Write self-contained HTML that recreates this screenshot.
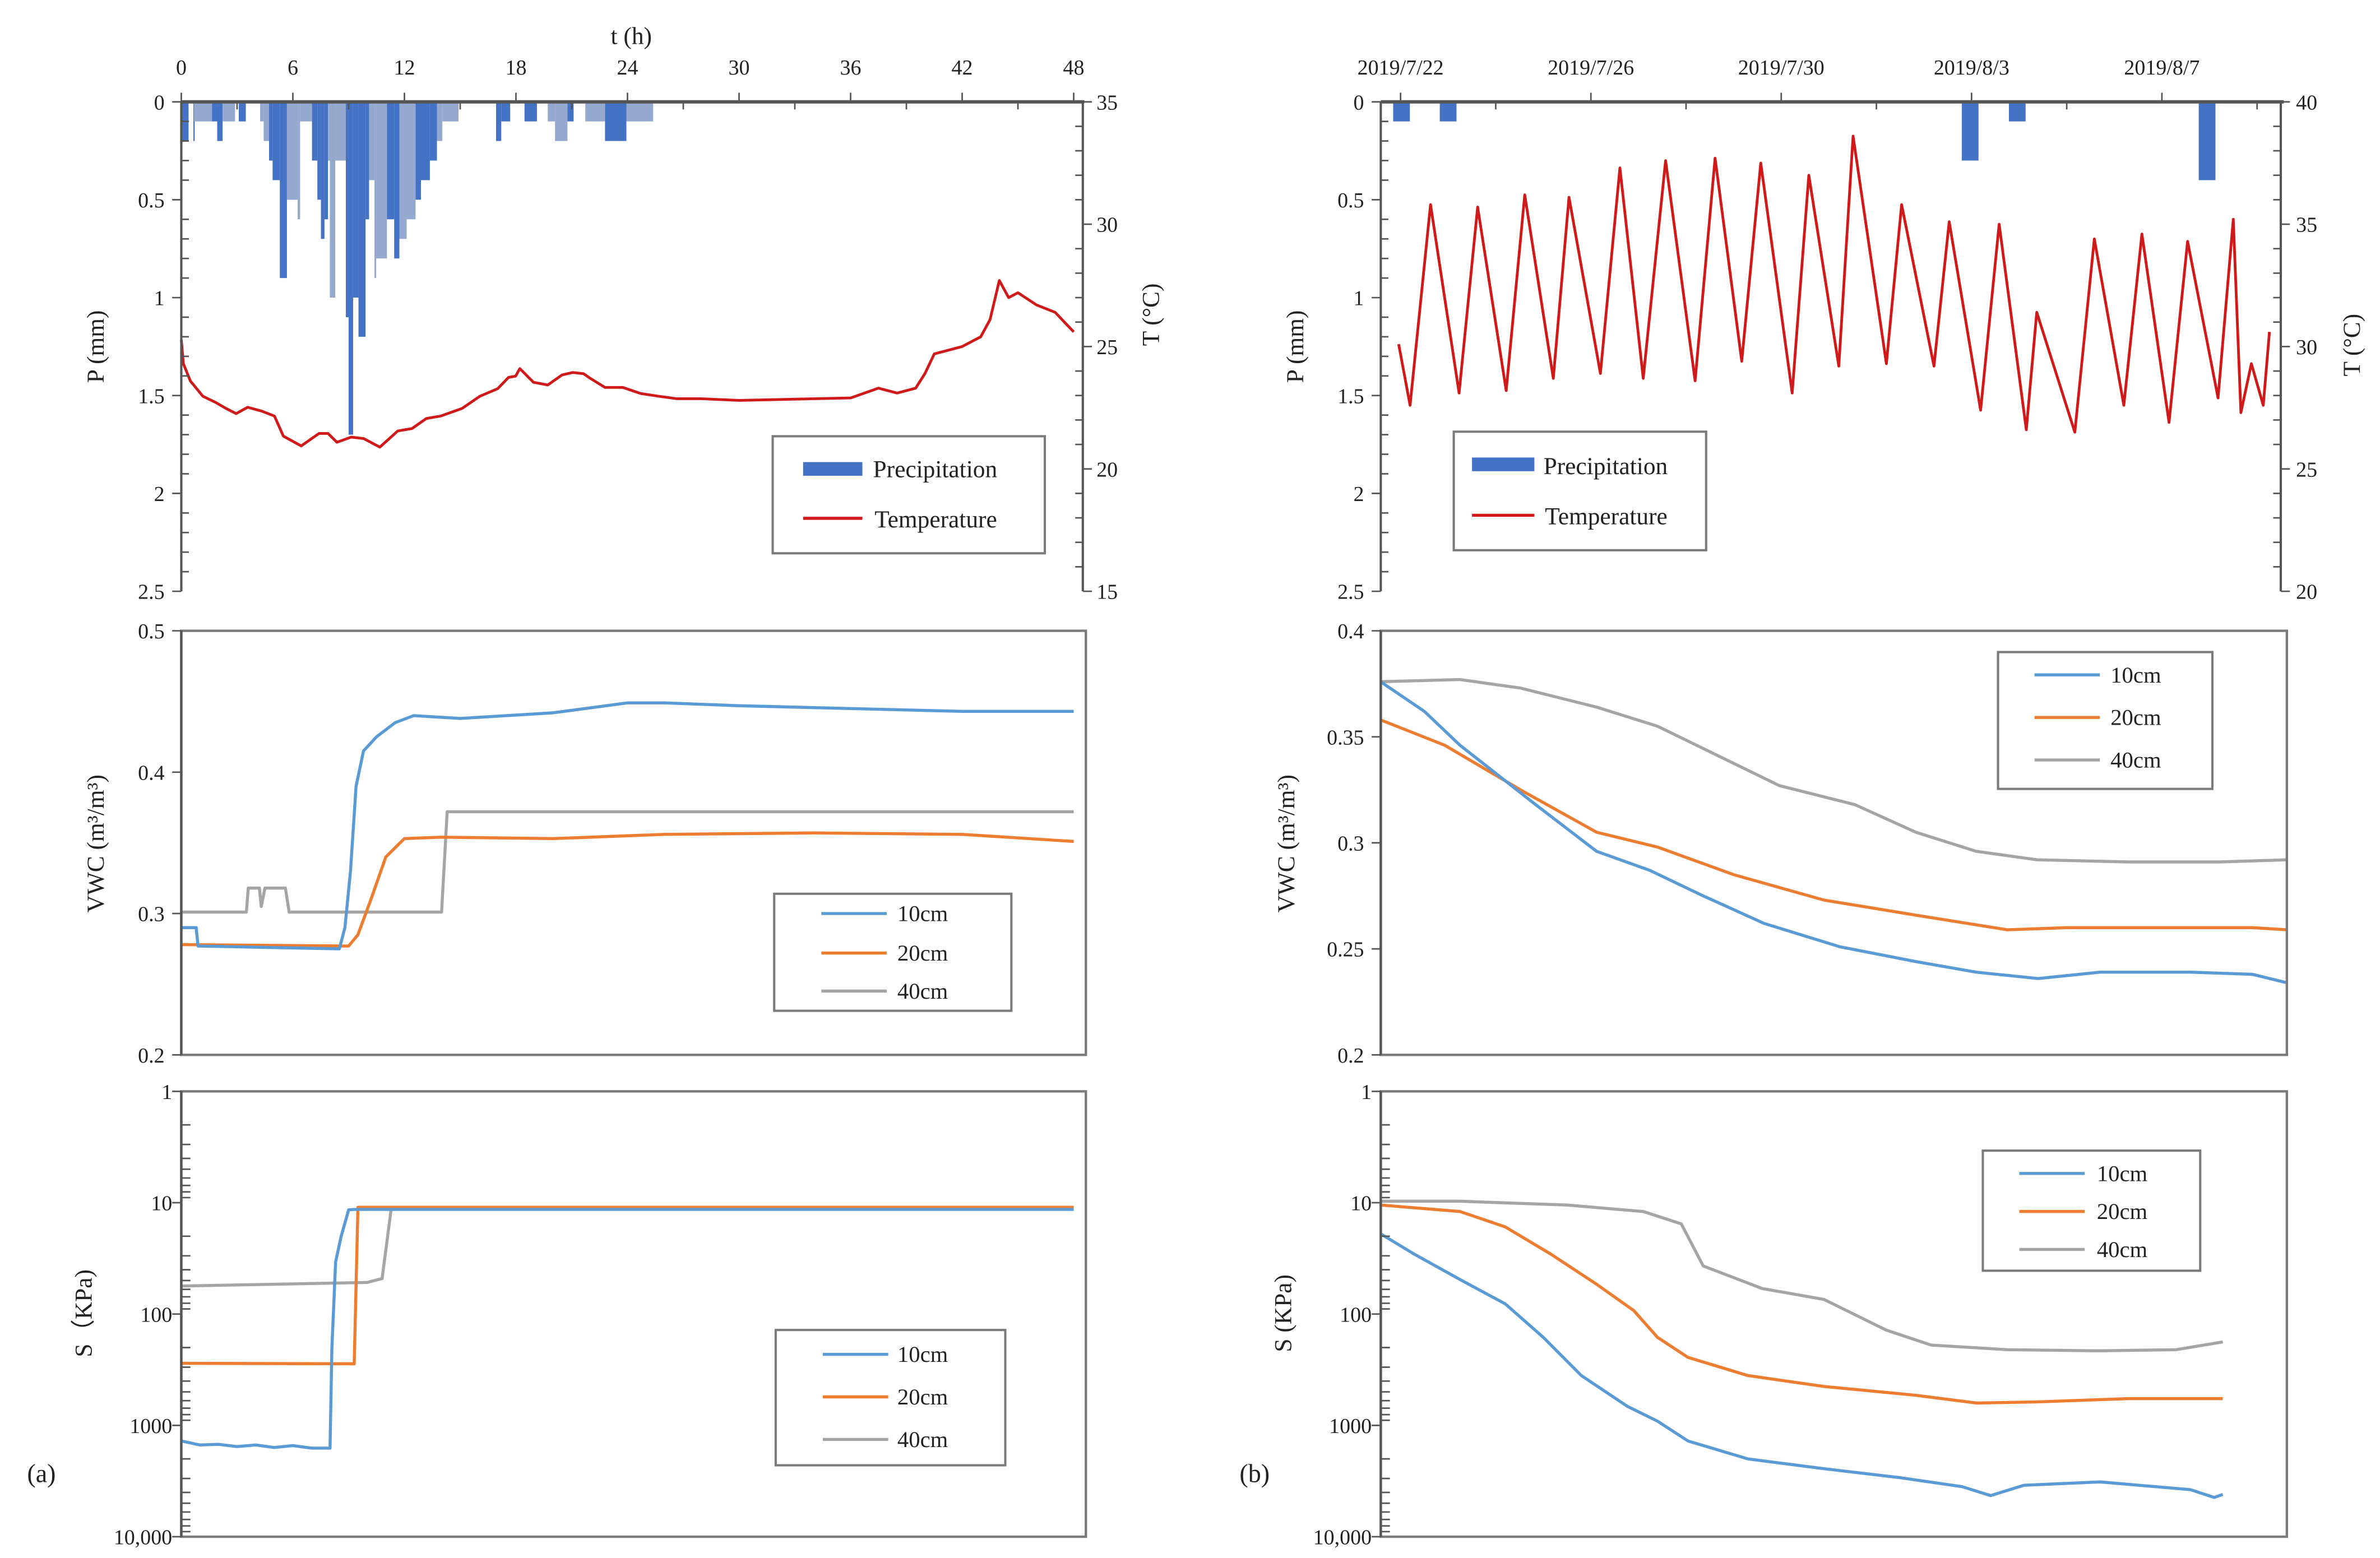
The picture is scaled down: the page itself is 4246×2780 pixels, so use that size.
<!DOCTYPE html>
<html><head><meta charset="utf-8"><style>
html,body{margin:0;padding:0;background:#fff}
svg{display:block}
text{font-family:"Liberation Serif",serif;fill:#222}
</style></head><body>
<svg id="fig" xmlns="http://www.w3.org/2000/svg" width="4246" height="2780" viewBox="0 0 1565 1025">
<rect x="0" y="0" width="1565" height="1025" fill="#fff"/>
</svg>
<script>
// ---------- DATA ----------
// Left (a): precipitation segments (hours)
const pStart=[0,0.65,0.68,1.65,1.93,2.22,3.09,4.24,4.43,4.72,4.91,5.30,5.68,6.26,6.39,7.03,7.32,7.51,7.70,7.89,7.99,8.28,8.85,9.00,9.24,9.53,9.91,10.10,10.39,10.48,11.06,11.45,11.73,12.12,12.60,12.89,13.37,13.75,14.04,16.93,17.21,18.46,19.71,20.10,20.77,21.73,22.79,23.94];
const pEnd=  [0.39,0.72,1.65,1.93,2.22,2.89,3.47,4.43,4.72,4.91,5.30,5.68,6.26,6.39,7.03,7.32,7.51,7.70,7.89,7.99,8.28,8.85,9.00,9.24,9.53,9.91,10.10,10.39,10.48,11.06,11.45,11.73,12.12,12.60,12.89,13.37,13.75,14.04,14.91,17.21,17.69,19.13,20.10,20.77,21.10,22.79,23.94,25.38];
const pVal=  [0.2,0.2,0.1,0.1,0.2,0.1,0.1,0.1,0.2,0.3,0.4,0.9,0.5,0.6,0.1,0.3,0.5,0.7,0.6,0.3,1.0,0.3,1.1,1.7,1.0,1.2,0.6,0.4,0.9,0.8,0.6,0.8,0.7,0.6,0.5,0.4,0.3,0.2,0.1,0.2,0.1,0.1,0.1,0.2,0.1,0.1,0.2,0.1];
const pLight=[0,0,1,0,0,1,0,1,1,0,0,0,1,1,1,0,0,0,0,1,1,1,0,0,0,0,0,1,1,1,0,0,1,1,0,0,0,1,1,0,0,0,1,1,0,1,0,1];
// Left temperature
const tT=[0,0.11,0.49,1.16,1.84,2.41,2.95,3.57,4.33,5.01,5.49,6.45,7.41,7.89,8.37,9.14,9.81,10.68,11.64,12.41,13.18,13.95,15.10,16.06,17.02,17.6,17.98,18.21,18.94,19.71,20.48,21.06,21.64,22.02,22.79,23.75,24.71,25.67,26.63,27.94,30,36,37.5,38.5,39.5,40,40.5,42,43,43.5,44,44.5,45,46,47,48];
const tVal=[25.27,24.30,23.59,22.97,22.72,22.47,22.26,22.52,22.36,22.16,21.34,20.94,21.45,21.45,21.09,21.30,21.24,20.89,21.55,21.65,22.06,22.16,22.47,22.97,23.28,23.74,23.79,24.10,23.54,23.43,23.84,23.94,23.89,23.69,23.33,23.33,23.08,22.97,22.87,22.87,22.8,22.9,23.3,23.1,23.3,23.9,24.7,25.0,25.4,26.1,27.7,27.0,27.2,26.7,26.4,25.6];
// Left VWC
const aV10t=[0,0.8,0.9,8.5,8.8,9.1,9.4,9.8,10.5,11.5,12.5,15,20,24,26,30,36,42,48];
const aV10=[0.29,0.29,0.277,0.275,0.29,0.33,0.39,0.415,0.425,0.435,0.44,0.438,0.442,0.449,0.449,0.447,0.445,0.443,0.443];
const aV20t=[0,9,9.5,10.2,11,12,14,20,26,34,42,48];
const aV20=[0.278,0.277,0.285,0.31,0.34,0.353,0.354,0.353,0.356,0.357,0.356,0.351];
const aV40t=[0,3.5,3.6,4.2,4.3,4.5,5.6,5.8,14,14.3,48];
const aV40=[0.301,0.301,0.318,0.318,0.305,0.318,0.318,0.301,0.301,0.372,0.372];
// Left suction (kPa)
const aS10t=[0,1,2,3,4,5,6,7,8,8.1,8.3,8.6,9,9.3,48];
const aS10=[1380,1500,1480,1550,1500,1580,1520,1600,1600,200,34,20,11.6,11.5,11.5];
const aS20t=[0,9.3,9.5,48];
const aS20=[277,280,11,11];
const aS40t=[0,5,10,10.8,11.3,48];
const aS40=[56,54,52,48,11,11];
// Right (b): days since 2019/7/22
const dateLabels=["2019/7/22","2019/7/26","2019/7/30","2019/8/3","2019/8/7"];
const bPday=[0.02,1.0,11.97,12.96,16.95];
const bPval=[0.1,0.1,0.3,0.1,0.4];
const bTd=[-0.04,0.20,0.63,1.23,1.62,2.22,2.61,3.21,3.54,4.20,4.61,5.10,5.57,6.19,6.61,7.17,7.57,8.23,8.58,9.21,9.51,10.21,10.53,11.21,11.53,12.19,12.58,13.15,13.37,14.17,14.58,15.20,15.58,16.15,16.54,17.18,17.50,17.66,17.88,18.13,18.26];
const bT=[30.1,27.6,35.8,28.1,35.7,28.2,36.2,28.7,36.1,28.9,37.3,28.7,37.6,28.6,37.7,29.4,37.5,28.1,37.0,29.2,38.6,29.3,35.8,29.2,35.1,27.4,35.0,26.6,31.4,26.5,34.4,27.6,34.6,26.9,34.3,27.9,35.2,27.3,29.3,27.6,30.6];
const bV10d=[-0.42,0.5,1.25,2.84,4.12,5.24,6.36,7.64,9.23,10.83,12.1,13.4,14.7,16.6,17.9,18.63];
const bV10=[0.376,0.362,0.346,0.318,0.296,0.287,0.275,0.262,0.251,0.244,0.239,0.236,0.239,0.239,0.238,0.234];
const bV20d=[-0.42,0.93,2.52,4.12,5.4,7.0,8.9,10.8,12.75,14.0,15.9,17.9,18.63];
const bV20=[0.358,0.346,0.325,0.305,0.298,0.285,0.273,0.266,0.259,0.260,0.260,0.260,0.259];
const bV40d=[-0.42,1.25,2.52,4.12,5.4,6.68,7.96,9.55,10.83,12.1,13.38,15.3,17.2,18.63];
const bV40=[0.376,0.377,0.373,0.364,0.355,0.341,0.327,0.318,0.305,0.296,0.292,0.291,0.291,0.292];
const bS10d=[-0.42,0.29,1.25,2.2,3.0,3.8,4.76,5.4,6.04,7.3,8.9,10.5,11.8,12.4,13.1,14.7,16.6,17.1,17.28];
const bS10=[19,29,49,81,162,357,672,917,1380,2000,2450,2950,3550,4270,3450,3220,3780,4440,4170];
const bS20d=[-0.42,1.25,2.2,3.16,4.12,4.9,5.4,6.04,7.3,8.9,10.83,12.1,13.38,15.3,17.28];
const bS20=[10.5,12,16.5,29,54,93,162,245,357,447,537,630,615,575,575];
const bS40d=[-0.42,1.25,3.5,5.1,5.9,6.36,7.6,8.9,10.2,11.15,12.75,14.67,16.3,17.28];
const bS40=[9.7,9.7,10.5,12,15.5,37,59,74,139,190,209,214,209,178];

// ---------- SCALES ----------
const tx=t=>119+t*587/48;
const pyL=p=>67+p*322/2.5;
const TyL=T=>67+(35-T)*322/20;
const dx=d=>921+d*31.3;
const TyR=T=>67+(40-T)*322/20;
const vyL=v=>415+(0.5-v)*930;
const vyR=v=>415+(0.4-v)*1395;
const sy=s=>718+73.25*Math.log10(s);

const svg=document.getElementById('fig');
const NS="http://www.w3.org/2000/svg";
function mk(tag,attrs,parent){const e=document.createElementNS(NS,tag);for(const k in attrs)e.setAttribute(k,attrs[k]);(parent||svg).appendChild(e);return e;}
function txt(x,y,s,size,anchor,parent,rot){const e=mk('text',{x:x,y:y,'font-size':size,'text-anchor':anchor||'middle'},parent);if(rot)e.setAttribute('transform','rotate('+rot+' '+x+' '+y+')');e.textContent=s;return e;}
function pathFrom(xs,ys,fx,fy){let d='';for(let i=0;i<xs.length;i++)d+=(i?'L':'M')+fx(xs[i]).toFixed(2)+','+fy(ys[i]).toFixed(2);return d;}
const C10="#5B9BD5",C20="#ED7D31",C40="#A5A5A5",CT="#D01A1A",CP="#4472C4",CPL="#95A8CE",AX="#7b7b7b";

// ===== Panel a-top =====
const gA1=mk('g',{});


for(let i=0;i<pStart.length;i++){
  const r=mk('rect',{x:tx(pStart[i]),y:67,width:Math.max(0.8,tx(pEnd[i])-tx(pStart[i])),height:pyL(pVal[i])-67,fill:pLight[i]?CPL:CP},gA1);
  
  
}
const tl=mk('path',{d:pathFrom(tT,tVal,tx,TyL),fill:'none',stroke:CT,'stroke-width':1.8,'stroke-linejoin':'round'},gA1);


mk('line',{x1:119,y1:67,x2:713,y2:67,stroke:'#555','stroke-width':2.2},gA1);
mk('line',{x1:119,y1:67,x2:119,y2:389,stroke:'#555','stroke-width':1.5},gA1);
mk('line',{x1:712,y1:67,x2:712,y2:389,stroke:'#555','stroke-width':1.5},gA1);
for(let t=0;t<=48;t+=3){const maj=t%6===0;mk('line',{x1:tx(t),y1:maj?61:67,x2:tx(t),y2:maj?67:72,stroke:'#555','stroke-width':1},gA1);if(maj)txt(tx(t),49,String(t),14,'middle',gA1);}
txt(415,29,'t (h)',16,'middle',gA1);
for(let p=0;p<=25;p++){const v=p/10,y=pyL(v),maj=p%5===0;mk('line',{x1:maj?113:119,y1:y,x2:maj?119:124,y2:y,stroke:'#555','stroke-width':1},gA1);if(maj)txt(108,y+5,['0','0.5','1','1.5','2','2.5'][p/5],14,'end',gA1);}
for(let T=15;T<=35;T++){const y=TyL(T),maj=T%5===0;mk('line',{x1:maj?712:707,y1:y,x2:maj?718:712,y2:y,stroke:'#555','stroke-width':1},gA1);if(maj)txt(721,y+5,String(T),14,'start',gA1);}
txt(68,228,'P (mm)',16,'middle',gA1,-90);
txt(762,207,'T (°C)',16,'middle',gA1,-90);
const lgA1=mk('g',{},gA1);


mk('rect',{x:508,y:287,width:179,height:77,fill:'#fff',stroke:AX,'stroke-width':1.5},lgA1);
mk('rect',{x:528,y:304,width:39,height:9,fill:CP},lgA1);
txt(574,314,'Precipitation',16,'start',lgA1);
mk('line',{x1:528,y1:341,x2:567,y2:341,stroke:CT,'stroke-width':2},lgA1);
txt(575,347,'Temperature',16,'start',lgA1);

// generic framed panel
function frame(g,x1,y1,x2,y2){mk('rect',{x:x1,y:y1,width:x2-x1,height:y2-y1,fill:'none',stroke:AX,'stroke-width':1.6},g);mk('line',{x1:x1,y1:y1,x2:x1,y2:y2,stroke:'#555','stroke-width':1.6},g);}
function legend3(g,x,y,w,h,ys,lx1,lx2,tx0,name){
  const lg=mk('g',{},g);
  
  
  mk('rect',{x:x,y:y,width:w,height:h,fill:'#fff',stroke:AX,'stroke-width':1.5},lg);
  const cols=[C10,C20,C40],labs=['10cm','20cm','40cm'];
  for(let i=0;i<3;i++){mk('line',{x1:lx1,y1:ys[i],x2:lx2,y2:ys[i],stroke:cols[i],'stroke-width':2},lg);txt(tx0,ys[i]+5,labs[i],15,'start',lg);}
}
function series(g,xs,ys,fx,fy,col,name){const p=mk('path',{d:pathFrom(xs,ys,fx,fy),fill:'none',stroke:col,'stroke-width':2,'stroke-linejoin':'round'},g);}
function logAxis(g,x){
  const labs=['1','10','100','1000','10,000'];
  for(let e=0;e<4;e++){for(let m=1;m<10;m++){const y=sy(Math.pow(10,e)*m);mk('line',{x1:x,y1:y,x2:x+(m===1?0:6),y2:y,stroke:'#555','stroke-width':1},g);}}
  for(let e=0;e<=4;e++){const y=sy(Math.pow(10,e));mk('line',{x1:x-6,y1:y,x2:x,y2:y,stroke:'#555','stroke-width':1},g);txt(x-6,y+5,labs[e],14,'end',g);}
}

// ===== Panel a-mid =====
const gA2=mk('g',{});


series(gA2,aV40t,aV40,tx,vyL,C40,'vwc-a-40cm');
series(gA2,aV20t,aV20,tx,vyL,C20,'vwc-a-20cm');
series(gA2,aV10t,aV10,tx,vyL,C10,'vwc-a-10cm');
frame(gA2,119,415,714,694);
[0.5,0.4,0.3,0.2].forEach((v,i)=>{const y=vyL(v);mk('line',{x1:113,y1:y,x2:119,y2:y,stroke:'#555','stroke-width':1},gA2);txt(108,y+5,['0.5','0.4','0.3','0.2'][i],14,'end',gA2);});
txt(68,555,'VWC (m³/m³)',16,'middle',gA2,-90);
legend3(gA2,509,588,156,77,[601,627,652],540,583,590,'legend-a-vwc');

// ===== Panel a-bottom =====
const gA3=mk('g',{});


series(gA3,aS40t,aS40,tx,sy,C40,'suction-a-40cm');
series(gA3,aS20t,aS20,tx,sy,C20,'suction-a-20cm');
series(gA3,aS10t,aS10,tx,sy,C10,'suction-a-10cm');
frame(gA3,119,718,714,1011);
logAxis(gA3,119);
txt(60,864,'S（KPa)',16,'middle',gA3,-90);
legend3(gA3,510,875,151,89,[891,919,947],541,584,590,'legend-a-suction');
txt(27,975,'(a)',17,'middle',svg);

// ===== Panel b-top =====
const gB1=mk('g',{});


for(let i=0;i<bPday.length;i++){
  const r=mk('rect',{x:dx(bPday[i])-5.5,y:67,width:11,height:pyL(bPval[i])-67,fill:CP},gB1);
  
  
}
const tl2=mk('path',{d:pathFrom(bTd,bT,dx,TyR),fill:'none',stroke:CT,'stroke-width':1.8,'stroke-linejoin':'round'},gB1);


mk('line',{x1:908,y1:67,x2:1502,y2:67,stroke:'#555','stroke-width':2.2},gB1);
mk('line',{x1:908,y1:67,x2:908,y2:389,stroke:'#555','stroke-width':1.5},gB1);
mk('line',{x1:1500,y1:67,x2:1500,y2:389,stroke:'#555','stroke-width':1.5},gB1);
for(let d=0;d<=18;d+=2){const maj=d%4===0;mk('line',{x1:dx(d),y1:maj?61:67,x2:dx(d),y2:maj?67:72,stroke:'#555','stroke-width':1},gB1);if(maj)txt(dx(d),49,dateLabels[d/4],14,'middle',gB1);}
for(let p=0;p<=25;p++){const v=p/10,y=pyL(v),maj=p%5===0;mk('line',{x1:maj?902:908,y1:y,x2:maj?908:913,y2:y,stroke:'#555','stroke-width':1},gB1);if(maj)txt(897,y+5,['0','0.5','1','1.5','2','2.5'][p/5],14,'end',gB1);}
for(let T=20;T<=40;T++){const y=TyR(T),maj=T%5===0;mk('line',{x1:maj?1500:1495,y1:y,x2:maj?1506:1500,y2:y,stroke:'#555','stroke-width':1},gB1);if(maj)txt(1510,y+5,String(T),14,'start',gB1);}
txt(857,228,'P (mm)',16,'middle',gB1,-90);
txt(1552,227,'T (°C)',16,'middle',gB1,-90);
const lgB1=mk('g',{},gB1);


mk('rect',{x:956,y:284,width:166,height:78,fill:'#fff',stroke:AX,'stroke-width':1.5},lgB1);
mk('rect',{x:968,y:301,width:41,height:9,fill:CP},lgB1);
txt(1015,312,'Precipitation',16,'start',lgB1);
mk('line',{x1:968,y1:339,x2:1009,y2:339,stroke:CT,'stroke-width':2},lgB1);
txt(1016,345,'Temperature',16,'start',lgB1);

// ===== Panel b-mid =====
const gB2=mk('g',{});


series(gB2,bV40d,bV40,dx,vyR,C40,'vwc-b-40cm');
series(gB2,bV20d,bV20,dx,vyR,C20,'vwc-b-20cm');
series(gB2,bV10d,bV10,dx,vyR,C10,'vwc-b-10cm');
frame(gB2,908,415,1504,694);
[0.4,0.35,0.3,0.25,0.2].forEach((v,i)=>{const y=vyR(v);mk('line',{x1:902,y1:y,x2:908,y2:y,stroke:'#555','stroke-width':1},gB2);txt(897,y+5,['0.4','0.35','0.3','0.25','0.2'][i],14,'end',gB2);});
txt(851,555,'VWC (m³/m³)',16,'middle',gB2,-90);
legend3(gB2,1314,429,141,90,[444,472,500],1338,1381,1388,'legend-b-vwc');

// ===== Panel b-bottom =====
const gB3=mk('g',{});


series(gB3,bS40d,bS40,dx,sy,C40,'suction-b-40cm');
series(gB3,bS20d,bS20,dx,sy,C20,'suction-b-20cm');
series(gB3,bS10d,bS10,dx,sy,C10,'suction-b-10cm');
frame(gB3,908,718,1504,1011);
logAxis(gB3,908);
txt(849,864,'S  (KPa)',16,'middle',gB3,-90);
legend3(gB3,1304,757,143,79,[772,797,822],1328,1371,1379,'legend-b-suction');
txt(825,975,'(b)',17,'middle',svg);
</script>
</body></html>
